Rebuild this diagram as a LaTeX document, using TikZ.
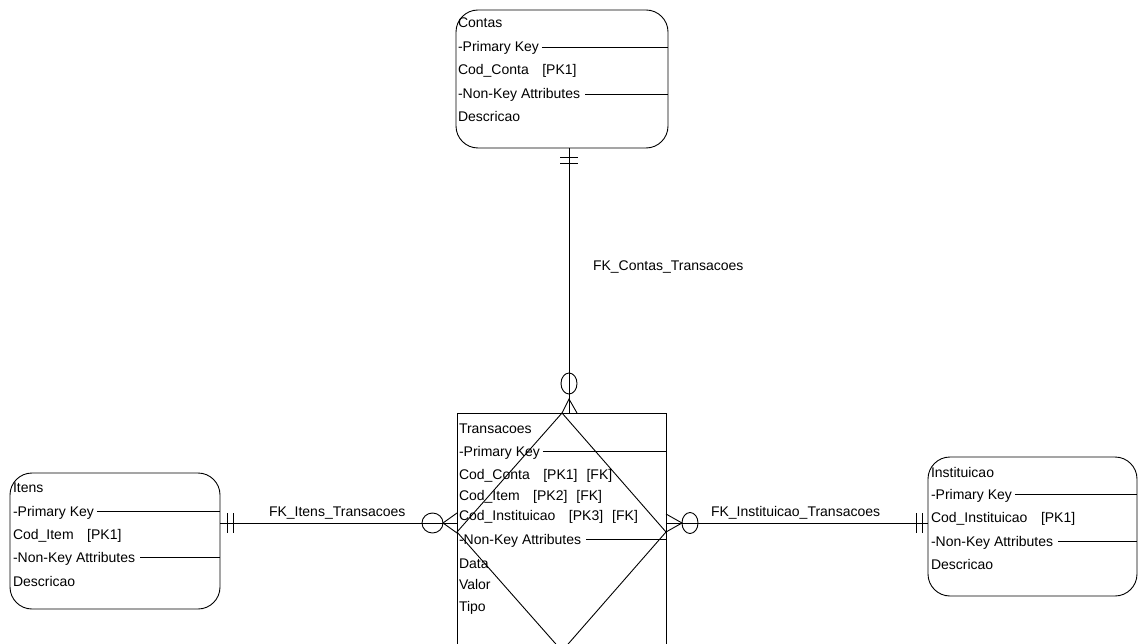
\documentclass[tikz,border=0pt]{standalone}
\usepackage{fontspec}
\setmainfont{Liberation Sans}
\usetikzlibrary{calc}
\begin{document}
\begin{tikzpicture}[x=1pt,y=-1pt,
  every node/.style={font=\fontsize{14}{16}\selectfont, inner sep=0pt, outer sep=0pt},
  entity/.style={draw, rounded corners=22pt, anchor=north west, line width=0.9pt},
  tablebox/.style={draw, anchor=north west, line width=0.9pt},
  attr/.style={anchor=base west},
  conn/.style={line width=0.9pt},
  sepline/.style={line width=0.9pt}]
\useasboundingbox (0,0) rectangle (1139,644);
\clip (0,0) rectangle (1139,644);

% ---------- entity boxes ----------
\node[entity, minimum width=212pt, minimum height=138pt] (contas) at (456,10) {};
\node[entity, minimum width=210pt, minimum height=136pt] (itens) at (10,473) {};
\node[entity, minimum width=209pt, minimum height=139pt] (inst) at (928,457) {};
\node[tablebox, minimum width=209pt, minimum height=250pt] (trans) at (457,413) {};

% diagonal outline across the Transacoes table
\draw[conn] (562,413) -- (457,532) -- (562,651) -- (666,532) -- cycle;

% ---------- Contas ----------
\node[attr] (cT) at (458,28) {Contas};
\node[attr] (cP) at (458,51.5) {-Primary Key};
\node[attr] (cA) at (458,75) {Cod\_Conta\hspace{13.5pt}[PK1]};
\node[attr] (cN) at (458,98.5) {-Non-Key Attributes};
\node[attr] (cD) at (458,121.5) {Descricao};
\draw[sepline] ($(cP.base east)+(3,-4.5)$) coordinate (cs1) -- (cs1 -| contas.east);
\draw[sepline] ($(cN.base east)+(5,-4.5)$) coordinate (cs2) -- (cs2 -| contas.east);

% ---------- Itens ----------
\node[attr] (iT) at (13,492) {Itens};
\node[attr] (iP) at (13,516) {-Primary Key};
\node[attr] (iA) at (13,539) {Cod\_Item\hspace{13.5pt}[PK1]};
\node[attr] (iN) at (13,562) {-Non-Key Attributes};
\node[attr] (iD) at (13,586) {Descricao};
\draw[sepline] ($(iP.base east)+(3,-4.5)$) coordinate (is1) -- (is1 -| itens.east);
\draw[sepline] ($(iN.base east)+(5,-4.5)$) coordinate (is2) -- (is2 -| itens.east);

% ---------- Instituicao ----------
\node[attr] (nT) at (931,477) {Instituicao};
\node[attr] (nP) at (931,499) {-Primary Key};
\node[attr] (nA) at (931,522) {Cod\_Instituicao\hspace{13.5pt}[PK1]};
\node[attr] (nN) at (931,546) {-Non-Key Attributes};
\node[attr] (nD) at (931,569) {Descricao};
\draw[sepline] ($(nP.base east)+(3,-4.5)$) coordinate (ns1) -- (ns1 -| inst.east);
\draw[sepline] ($(nN.base east)+(5,-4.5)$) coordinate (ns2) -- (ns2 -| inst.east);

% ---------- Transacoes ----------
\node[attr] (tT) at (459,433) {Transacoes};
\node[attr] (tP) at (459,456) {-Primary Key};
\node[attr] (tA) at (459,479.5) {Cod\_Conta\hspace{13.5pt}[PK1]\hspace{9pt}[FK]};
\node[attr] (tB) at (459,500) {Cod\_Item\hspace{13.5pt}[PK2]\hspace{9pt}[FK]};
\node[attr] (tC) at (459,520) {Cod\_Instituicao\hspace{13.5pt}[PK3]\hspace{9pt}[FK]};
\node[attr] (tN) at (459,544) {-Non-Key Attributes};
\node[attr] (tD) at (459,568) {Data};
\node[attr] (tV) at (459,589) {Valor};
\node[attr] (tW) at (459,611) {Tipo};
\draw[sepline] ($(tP.base east)+(3,-4.5)$) coordinate (ts1) -- (ts1 -| trans.east);
\draw[sepline] ($(tN.base east)+(5,-4.5)$) coordinate (ts2) -- (ts2 -| trans.east);

% ---------- relationships ----------
\coordinate (topx) at (569,0);
\coordinate (midy) at (0,523);

% Contas -> Transacoes
\draw[conn] (contas.south -| topx) coordinate (ca) -- (trans.north -| topx) coordinate (cb);
\draw[conn] (ca) ++(-9,9) -- ++(18,0);
\draw[conn] (ca) ++(-9,15) -- ++(18,0);
\draw[conn] (cb) ++(0,-29.5) ellipse [x radius=8pt, y radius=10.5pt];
\draw[conn] (cb) ++(-7,0) -- ++(7,-14) -- ++(8,14);

% Itens -> Transacoes
\draw[conn] (itens.east |- midy) coordinate (ia) -- (trans.west |- midy) coordinate (ib);
\draw[conn] (ia) ++(7,-10) -- ++(0,20);
\draw[conn] (ia) ++(13,-10) -- ++(0,20);
\draw[conn] (ib) ++(-24.5,0) ellipse [x radius=10.5pt, y radius=10pt];
\draw[conn] (ib) ++(0,-10) -- ++(-14,10) -- ++(14,10);

% Instituicao -> Transacoes
\draw[conn] (trans.east |- midy) coordinate (na) -- (inst.west |- midy) coordinate (nb);
\draw[conn] (nb) ++(-12,-10) -- ++(0,20);
\draw[conn] (nb) ++(-6,-10) -- ++(0,20);
\draw[conn] (na) ++(24,0) ellipse [x radius=8pt, y radius=10.5pt];
\draw[conn] (na) ++(0,-9) -- ++(16,9) -- ++(-16,9);

% relationship names
\node[attr] (lblC) at (593,270) {FK\_Contas\_Transacoes};
\node[attr] (lblI) at (269,516) {FK\_Itens\_Transacoes};
\node[attr] (lblN) at (711,516) {FK\_Instituicao\_Transacoes};
\end{tikzpicture}
\end{document}
